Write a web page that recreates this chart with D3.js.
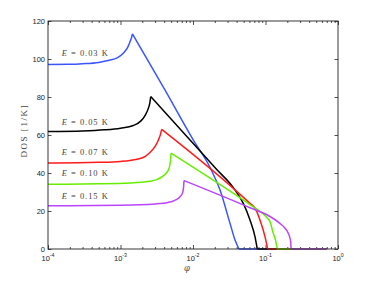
<!DOCTYPE html>
<html>
<head>
<meta charset="utf-8">
<script src="https://cdn.jsdelivr.net/npm/d3@7"></script>
<style>
  body { margin: 0; background: #fff; }
  svg { display: block; }
</style>
</head>
<body>
<div id="chart"></div>
<script>
// svg size and plot box
var svgWidth = 374;
var svgHeight = 281;
var margin = { top: 21, right: 36, bottom: 32, left: 48 };
var width = svgWidth - margin.left - margin.right;
var height = svgHeight - margin.top - margin.bottom;

// legend text for each curve
var energies = ["0.03", "0.05", "0.07", "0.10", "0.15"];

// rising part of each curve, [phi, DOS]
var rise003 = [[1e-4, 97.1], [2e-4, 97.2], [3e-4, 97.5], [5e-4, 98.2], [7e-4, 99.3], [9e-4, 100.6], [1.1e-3, 103.2], [1.25e-3, 106], [1.35e-3, 109], [1.42e-3, 111.3], [1.46e-3, 113.2]];
var rise005 = [[1e-4, 61.8], [3e-4, 62.1], [6e-4, 62.7], [1e-3, 63.6], [1.5e-3, 65], [1.9e-3, 67.3], [2.2e-3, 70.5], [2.42e-3, 74], [2.55e-3, 77.3], [2.61e-3, 80.2]];
var rise007 = [[1e-4, 45.2], [5e-4, 45.6], [1e-3, 46.1], [1.35e-3, 46.6], [1.8e-3, 47.5], [2.2e-3, 48.8], [2.55e-3, 50.8], [3e-3, 54], [3.3e-3, 57], [3.55e-3, 60.2], [3.7e-3, 63]];
var rise010 = [[1e-4, 34.1], [5e-4, 34.3], [1.35e-3, 34.7], [2.5e-3, 35.6], [3.15e-3, 36.5], [3.89e-3, 38.5], [4.57e-3, 41.5], [4.84e-3, 45], [4.98e-3, 50.4]];
var rise015 = [[1e-4, 22.7], [1e-3, 23], [3e-3, 23.7], [4.5e-3, 24.5], [5.35e-3, 25.3], [6.2e-3, 26.5], [6.62e-3, 27.5], [7.21e-3, 29.8], [7.4e-3, 32.3], [7.51e-3, 36]];

// falling part, from the cusp down to zero
var fall003 = [[1.46e-3, 113.2], [4.1e-3, 83.7], [1.007e-2, 57.4], [0.01714, 43], [0.0236, 31], [0.0324, 13.5], [0.038, 4.7], [0.043, 0]];
var fall005 = [[2.61e-3, 80.2], [9.1e-3, 57.4], [0.0208, 42.2], [0.036, 32.3], [0.0494, 24], [0.0611, 15.3], [0.0716, 6.5], [0.077, 0]];
var fall007 = [[3.7e-3, 63], [0.0611, 24], [0.0716, 21.5], [0.0839, 15.3], [0.0984, 6.5], [0.107, 0]];
var fall010 = [[4.98e-3, 50.4], [0.0611, 23.4], [0.0839, 19.8], [0.1016, 17.1], [0.1153, 14.4], [0.128, 8.3], [0.1375, 4.7], [0.1455, 0]];
var fall015 = [[7.51e-3, 36], [0.0611, 21.7], [0.1153, 17.1], [0.158, 13.5], [0.186, 10.9], [0.206, 8.3], [0.2225, 4], [0.225, 0]];

// zero line after the cutoff
var tailEnd = 0.7;

// y positions of the E labels (DOS value at the text baseline)
var labelDos = [101.5, 65.5, 49.5, 38.2, 26.3];

var rises = [rise003, rise005, rise007, rise010, rise015];
var falls = [fall003, fall005, fall007, fall010, fall015];
var colors = ["#3a55ff", "#000000", "#ff1a1a", "#66ee00", "#bb44ff"];

var svg = d3.select("#chart").append("svg")
    .attr("width", svgWidth)
    .attr("height", svgHeight);

var chartGroup = svg.append("g")
    .attr("transform", `translate(${margin.left}, ${margin.top})`);

var xScale = d3.scaleLog().domain([1e-4, 1]).range([0, width]);
var yScale = d3.scaleLinear().domain([0, 120]).range([height, 0]);

var axisColor = "#222";
var majorX = [1e-4, 1e-3, 1e-2, 1e-1, 1];
var minorX = [];
for (var k = -4; k < 0; k++) {
    for (var m = 2; m <= 9; m++) minorX.push(m * Math.pow(10, k));
}
var yTicks = d3.range(0, 121, 20);

// ticks, all pointing inward
function tickAxis(axisFn, scale, vals, size, transform) {
    var g = chartGroup.append("g")
        .attr("transform", transform)
        .call(axisFn(scale).tickValues(vals).tickSizeInner(size).tickSizeOuter(0).tickFormat(""));
    g.select(".domain").remove();
    g.selectAll("line").attr("stroke", axisColor).attr("stroke-width", 0.8);
    return g;
}
tickAxis(d3.axisBottom, xScale, majorX, -4, `translate(0,${height})`);
tickAxis(d3.axisBottom, xScale, minorX, -2, `translate(0,${height})`);
tickAxis(d3.axisTop, xScale, majorX, -4, "translate(0,0)");
tickAxis(d3.axisTop, xScale, minorX, -2, "translate(0,0)");
tickAxis(d3.axisLeft, yScale, yTicks, -3.5, "translate(0,0)");
tickAxis(d3.axisRight, yScale, yTicks, -3.5, `translate(${width},0)`);

// curves
var line = d3.line()
    .x(d => xScale(d[0]))
    .y(d => yScale(d[1]))
    .curve(d3.curveMonotoneX);
var straight = d3.line()
    .x(d => xScale(d[0]))
    .y(d => yScale(d[1]));

chartGroup.append("clipPath").attr("id", "plotClip")
    .append("rect").attr("width", width).attr("height", height + 1);

var curves = chartGroup.append("g").attr("clip-path", "url(#plotClip)");
rises.forEach(function(rise, i) {
    var fall = falls[i];
    var cut = fall[fall.length - 1][0];
    var d = line(rise) + line(fall) + straight([[cut, 0], [tailEnd, 0]]);
    curves.append("path")
        .attr("d", d)
        .attr("fill", "none")
        .attr("stroke", colors[i])
        .attr("stroke-width", 1.5)
        .attr("stroke-linejoin", "round");
});

// box
chartGroup.append("rect")
    .attr("width", width)
    .attr("height", height)
    .attr("fill", "none")
    .attr("stroke", axisColor)
    .attr("stroke-width", 0.9);

// y tick labels
chartGroup.selectAll(".ylab")
    .data(yTicks)
    .enter()
    .append("text")
    .attr("x", -3)
    .attr("y", d => yScale(d))
    .attr("dy", "0.35em")
    .attr("text-anchor", "end")
    .attr("font-family", "Liberation Sans, Arial, sans-serif")
    .attr("font-size", "7.5px")
    .attr("fill", axisColor)
    .text(d => d);

// x tick labels, 10 with a raised exponent
var exps = ["-4", "-3", "-2", "-1", "0"];
majorX.forEach(function(v, i) {
    var t = chartGroup.append("text")
        .attr("x", xScale(v))
        .attr("y", height + 11.5)
        .attr("text-anchor", "middle")
        .attr("font-family", "Liberation Sans, Arial, sans-serif")
        .attr("font-size", "7.5px")
        .attr("fill", axisColor);
    t.append("tspan").text("10");
    t.append("tspan").attr("dy", -3.5).attr("font-size", "5.2px").text(exps[i]);
});

// E labels
energies.forEach(function(e, i) {
    var t = chartGroup.append("text")
        .attr("x", xScale(1.55e-4))
        .attr("y", yScale(labelDos[i]))
        .attr("font-family", "Liberation Serif, Times New Roman, serif")
        .attr("font-size", "8.5px")
        .attr("fill", "#444")
        .attr("textLength", 46)
        .attr("lengthAdjust", "spacing");
    t.append("tspan").attr("font-style", "italic").text("E");
    t.append("tspan").text(` = ${e} K`);
});

// axis titles
chartGroup.append("text")
    .attr("transform", `translate(${-21}, 110.5) rotate(-90)`)
    .attr("text-anchor", "middle")
    .attr("font-family", "Liberation Serif, Times New Roman, serif")
    .attr("font-size", "9px")
    .attr("fill", "#444")
    .attr("textLength", 52)
    .attr("lengthAdjust", "spacing")
    .text("DOS [1/K]");

chartGroup.append("text")
    .attr("x", xScale(1e-2) - 6)
    .attr("y", height + 22)
    .attr("text-anchor", "middle")
    .attr("font-family", "DejaVu Serif, serif")
    .attr("font-style", "italic")
    .attr("font-size", "8.5px")
    .attr("fill", "#555")
    .text("\u03C6");
</script>
</body>
</html>
